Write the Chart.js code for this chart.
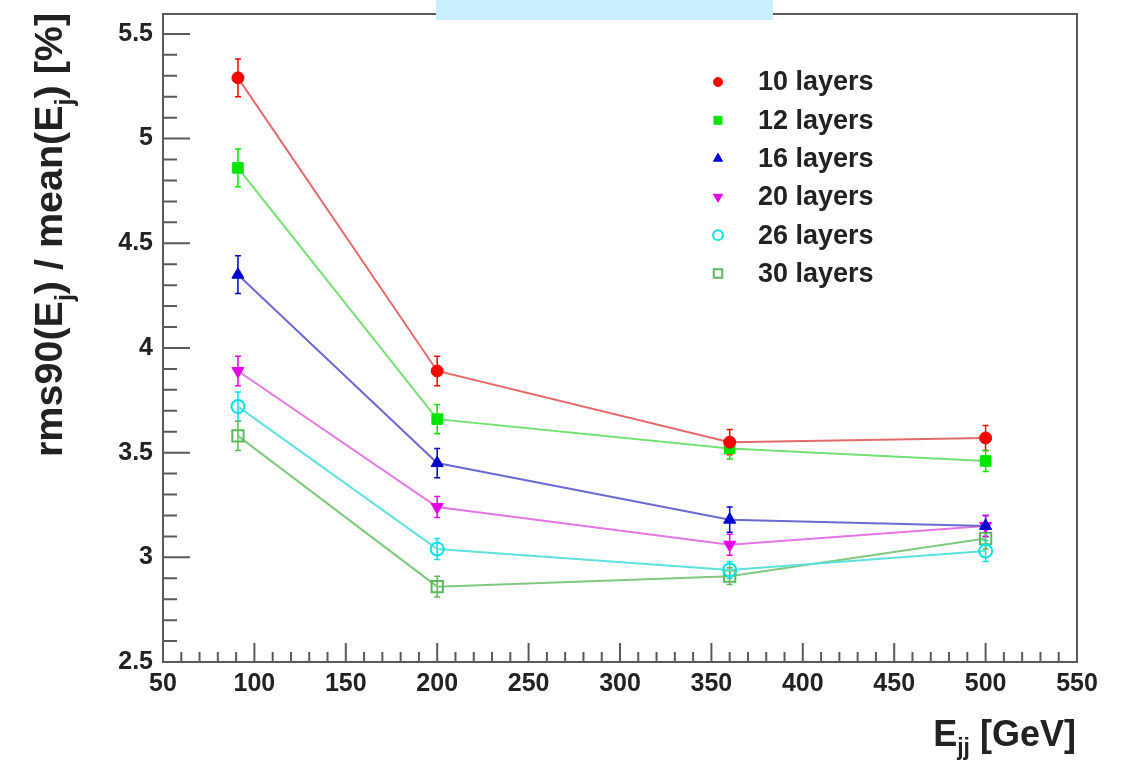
<!DOCTYPE html>
<html>
<head>
<meta charset="utf-8">
<style>
  body { margin: 0; background: #fff; }
  #wrap { width: 1129px; height: 761px; position: relative; }
</style>
<script src="https://cdn.jsdelivr.net/npm/chart.js@4/dist/chart.umd.min.js"></script>
</head>
<body>
<div id="wrap"><canvas id="resChart" width="1129" height="761"></canvas></div>
<script>
// beam energies (x) and jet energy resolution per layer count
const energies = [91, 200, 360, 500];
const layerNames = ['10 layers', '12 layers', '16 layers', '20 layers', '26 layers', '30 layers'];

const res10 = [5.29, 3.89, 3.55, 3.57];
const res12 = [4.86, 3.66, 3.52, 3.46];
const res16 = [4.35, 3.45, 3.18, 3.15];
const res20 = [3.89, 3.24, 3.06, 3.15];
const res26 = [3.72, 3.04, 2.94, 3.03];
const res30 = [3.58, 2.86, 2.91, 3.09];

const err10 = [0.09, 0.07, 0.06, 0.06];
const err12 = [0.09, 0.07, 0.05, 0.05];
const err16 = [0.09, 0.07, 0.06, 0.05];
const err20 = [0.07, 0.05, 0.05, 0.05];
const err26 = [0.07, 0.05, 0.04, 0.05];
const err30 = [0.07, 0.05, 0.04, 0.05];

const xTicks = [50, 100, 150, 200, 250, 300, 350, 400, 450, 500, 550];
const yTicks = [2.5, 3, 3.5, 4, 4.5, 5, 5.5];

const FONT = '"Liberation Sans", Arial, Helvetica, sans-serif';

// one dataset per layer count
function makeSet(label, values, errors, marker, line, style, open, radius, rotation) {
    return {
        label: label,
        data: values.map((v, i) => ({ x: energies[i], y: v })),
        errors: errors,
        borderColor: line,
        borderWidth: 2,
        pointStyle: style,
        pointRotation: rotation || 0,
        pointRadius: radius,
        pointBorderColor: marker,
        pointBackgroundColor: open ? 'rgba(255,255,255,0)' : marker,
        pointBorderWidth: open ? 2 : 1,
        markerColor: marker,
        tension: 0,
        fill: false
    };
}

const datasets = [
    makeSet(layerNames[0], res10, err10, '#ff0000', '#e46a6a', 'circle', false, 6),
    makeSet(layerNames[1], res12, err12, '#00e600', '#72e072', 'rect', false, 7.5),
    makeSet(layerNames[2], res16, err16, '#0000d0', '#6a6ad2', 'triangle', false, 7),
    makeSet(layerNames[3], res20, err20, '#e600e6', '#e276e2', 'triangle', false, 7, 180),
    makeSet(layerNames[4], res26, err26, '#00e4e4', '#5ee0e0', 'circle', true, 6.5),
    makeSet(layerNames[5], res30, err30, '#5cb85c', '#80c880', 'rect', true, 8)
];

// error bars, drawn under the markers
const errorBars = {
    id: 'errorBars',
    beforeDatasetsDraw(chart) {
        const ctx = chart.ctx;
        const xs = chart.scales.x, ys = chart.scales.y;
        ctx.save();
        chart.data.datasets.forEach(ds => {
            ctx.strokeStyle = ds.markerColor;
            ctx.lineWidth = 1.5;
            ds.data.forEach((p, i) => {
                const e = ds.errors[i];
                const px = xs.getPixelForValue(p.x);
                const top = ys.getPixelForValue(p.y + e);
                const bot = ys.getPixelForValue(p.y - e);
                ctx.beginPath();
                ctx.moveTo(px, top); ctx.lineTo(px, bot);
                ctx.moveTo(px - 3, top); ctx.lineTo(px + 3, top);
                ctx.moveTo(px - 3, bot); ctx.lineTo(px + 3, bot);
                ctx.stroke();
            });
        });
        ctx.restore();
    }
};

// text with subscripts: parts = [[text, isSub], ...]
function drawRich(ctx, parts, size, subSize, subDrop) {
    let x = 0;
    parts.forEach(([t, sub]) => {
        ctx.font = 'bold ' + (sub ? subSize : size) + 'px ' + FONT;
        ctx.fillText(t, x, sub ? subDrop : 0);
        x += ctx.measureText(t).width;
    });
    return x;
}
function richWidth(ctx, parts, size, subSize) {
    let w = 0;
    parts.forEach(([t, sub]) => {
        ctx.font = 'bold ' + (sub ? subSize : size) + 'px ' + FONT;
        w += ctx.measureText(t).width;
    });
    return w;
}

// ROOT style frame, inward ticks, axis titles, legend
const rootStyle = {
    id: 'rootStyle',
    beforeDatasetsDraw(chart) {
        const ctx = chart.ctx;
        const a = chart.chartArea;
        const xs = chart.scales.x, ys = chart.scales.y;
        ctx.save();
        ctx.strokeStyle = '#5a5a5a';
        ctx.lineWidth = 2;
        ctx.strokeRect(a.left, a.top, a.right - a.left, a.bottom - a.top);

        ctx.beginPath();
        for (let i = 25; i <= 55; i++) {
            const py = ys.getPixelForValue(i / 10);
            const len = i % 5 === 0 ? 27 : 14;
            ctx.moveTo(a.left, py); ctx.lineTo(a.left + len, py);
        }
        for (let v = 50; v <= 550; v += 10) {
            const px = xs.getPixelForValue(v);
            const len = v % 50 === 0 ? 19 : 10;
            ctx.moveTo(px, a.bottom); ctx.lineTo(px, a.bottom - len);
        }
        ctx.stroke();
        ctx.restore();
    },
    afterDraw(chart) {
        const ctx = chart.ctx;
        ctx.save();
        ctx.fillStyle = '#222';
        ctx.textBaseline = 'alphabetic';

        // y title
        ctx.save();
        ctx.translate(62, 457);
        ctx.rotate(-Math.PI / 2);
        drawRich(ctx, [['rms90(E', false], ['j', true], [') / mean(E', false], ['j', true], [') [%]', false]], 39.5, 25, 11);
        ctx.restore();

        // x title
        const xParts = [['E', false], ['jj', true], [' [GeV]', false]];
        const w = richWidth(ctx, xParts, 36, 23);
        ctx.save();
        ctx.translate(1076 - w, 746);
        drawRich(ctx, xParts, 36, 23, 9);
        ctx.restore();

        // legend
        chart.data.datasets.forEach((ds, i) => {
            const y = 82 + i * 38.3;
            ctx.fillStyle = ds.pointBackgroundColor;
            ctx.strokeStyle = ds.markerColor;
            ctx.lineWidth = ds.pointBorderWidth;
            Chart.helpers.drawPoint(ctx, {
                pointStyle: ds.pointStyle,
                rotation: ds.pointRotation,
                radius: ds.pointRadius * 0.75,
                borderWidth: ds.pointBorderWidth
            }, 718, y);
            ctx.fillStyle = '#222';
            ctx.font = 'bold 27px ' + FONT;
            ctx.textBaseline = 'middle';
            ctx.fillText(ds.label, 758, y + 1);
        });

        // light blue box at the top edge
        ctx.fillStyle = '#c9effd';
        ctx.fillRect(436, 0, 337, 20);
        ctx.restore();
    }
};

new Chart(document.getElementById('resChart'), {
    type: 'line',
    data: { datasets: datasets },
    options: {
        responsive: false,
        devicePixelRatio: 1,
        animation: false,
        layout: { padding: { top: 14, right: 52, left: 0, bottom: 0 } },
        plugins: { legend: { display: false }, title: { display: false }, tooltip: { enabled: false } },
        scales: {
            x: {
                type: 'linear',
                min: 50,
                max: 550,
                afterFit: s => { s.height = 99; s.paddingLeft = 0; s.paddingRight = 0; },
                afterBuildTicks: s => { s.ticks = xTicks.map(v => ({ value: v })); },
                grid: { display: false, drawTicks: false },
                border: { display: false },
                ticks: {
                    padding: 7,
                    color: '#222',
                    maxRotation: 0,
                    autoSkip: false,
                    font: { family: FONT, size: 25, weight: 'bold' }
                }
            },
            y: {
                type: 'linear',
                min: 2.5,
                max: 5.595,
                afterFit: s => { s.width = 163; s.paddingTop = 0; s.paddingBottom = 0; },
                afterBuildTicks: s => { s.ticks = yTicks.map(v => ({ value: v })); },
                grid: { display: false, drawTicks: false },
                border: { display: false },
                ticks: {
                    padding: 10,
                    color: '#222',
                    autoSkip: false,
                    callback: v => String(Number(v.toFixed(1))),
                    font: { family: FONT, size: 25, weight: 'bold' }
                }
            }
        }
    },
    plugins: [errorBars, rootStyle]
});
</script>
</body>
</html>
